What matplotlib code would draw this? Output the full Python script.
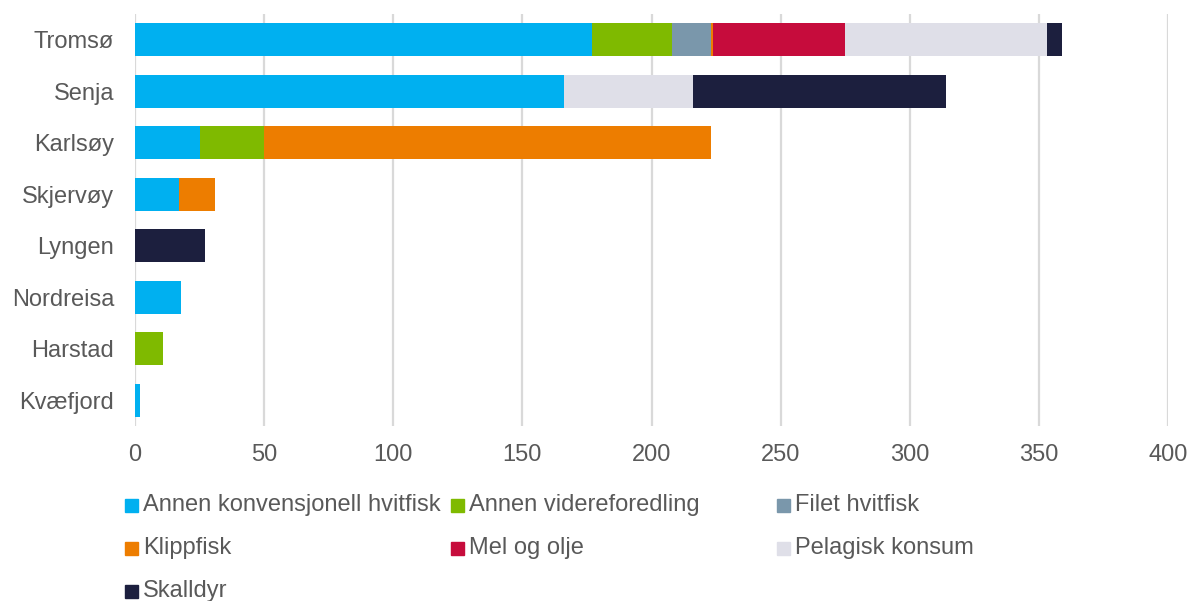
import numpy as np
import matplotlib.pyplot as plt
from matplotlib.patches import Rectangle

plt.rcParams['font.family'] = ['Liberation Sans', 'DejaVu Sans']

# kommuner, øverst først
kommuner = ['Tromsø', 'Senja', 'Karlsøy', 'Skjervøy', 'Lyngen', 'Nordreisa', 'Harstad', 'Kvæfjord']

serier = ['Annen konvensjonell hvitfisk', 'Annen videreforedling', 'Filet hvitfisk',
          'Klippfisk', 'Mel og olje', 'Pelagisk konsum', 'Skalldyr']

hvitfisk = [177, 166, 25, 17, 0, 18, 0, 2]
videreforedling = [31, 0, 25, 0, 0, 0, 11, 0]
filet = [15, 0, 0, 0, 0, 0, 0, 0]
klippfisk = [0.8, 0, 173, 14, 0, 0, 0, 0]
mel_olje = [51.2, 0, 0, 0, 0, 0, 0, 0]
pelagisk = [78, 50, 0, 0, 0, 0, 0, 0]
skalldyr = [6, 98, 0, 0, 27, 0, 0, 0]

farger = ['#00B0F0', '#7FBA00', '#7A97AB', '#ED7D00', '#C60C3C', '#DFDFE8', '#1C1F3E']
tekstfarge = '#595959'

verdier = [hvitfisk, videreforedling, filet, klippfisk, mel_olje, pelagisk, skalldyr]

fig = plt.figure(figsize=(11.91, 6.01), dpi=100)
ax = fig.add_axes([135 / 1191, 1 - 426 / 601, (1168 - 135) / 1191, (426 - 14) / 601])

y = np.arange(len(kommuner))
venstre = np.zeros(len(kommuner))
for navn, v, f in zip(serier, verdier, farger):
    ax.barh(y, v, left=venstre, height=0.64, color=f, label=navn, zorder=3)
    venstre += np.array(v)

ax.set_xlim(0, 400)
ax.set_ylim(len(kommuner) - 0.5, -0.5)
ax.set_xticks(np.arange(0, 401, 50))
ax.set_yticks(y)
ax.set_yticklabels(kommuner)
ax.grid(axis='x', color='#D9D9D9', linewidth=1.6, zorder=0)
for s in ax.spines.values():
    s.set_visible(False)
ax.tick_params(axis='both', length=0, labelsize=17, colors=tekstfarge)
ax.tick_params(axis='x', pad=13)
ax.tick_params(axis='y', pad=15)

# forklaring i tre kolonner
W, H = 1191, 601
for i, (navn, f) in enumerate(zip(serier, farger)):
    kol, rad = i % 3, i // 3
    x0 = 125 + 326 * kol
    yc = 505 + 43 * rad
    fig.patches.append(Rectangle((x0 / W, 1 - (yc + 6.5) / H), 13 / W, 13 / H,
                                 transform=fig.transFigure, color=f, figure=fig))
    fig.text((x0 + 18) / W, 1 - yc / H, navn, fontsize=17, color=tekstfarge,
             va='center', ha='left')

fig.savefig('out.png', dpi=100)
